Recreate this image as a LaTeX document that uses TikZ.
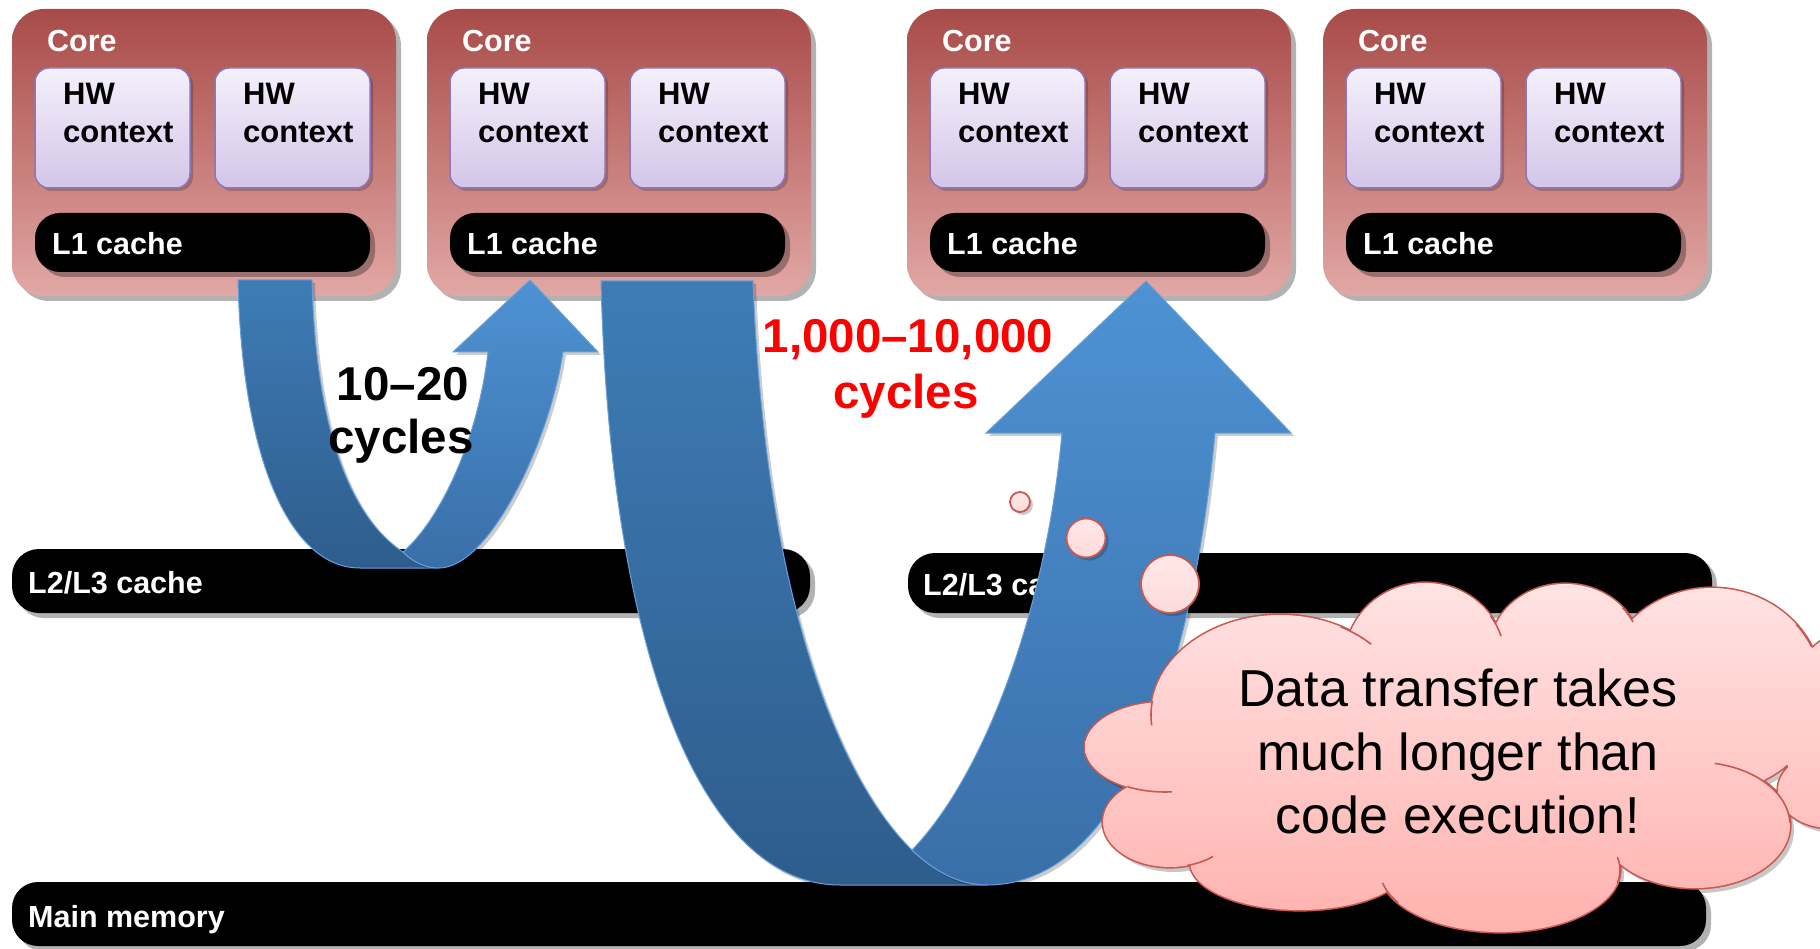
\documentclass[tikz,border=0pt]{standalone}
\usepackage{fontspec}
\setmainfont{Liberation Sans}
\usetikzlibrary{shadows}
\definecolor{coreTop}{RGB}{168,75,72}
\definecolor{coreBot}{RGB}{226,168,165}
\definecolor{hwTop}{RGB}{244,240,251}
\definecolor{hwBot}{RGB}{212,197,233}
\definecolor{hwLine}{RGB}{138,120,186}
\definecolor{bandLTop}{RGB}{62,124,182}
\definecolor{bandLBot}{RGB}{46,93,140}
\definecolor{bandRTop}{RGB}{78,146,212}
\definecolor{bandRBot}{RGB}{57,111,168}
\definecolor{bandLine}{RGB}{105,160,218}
\definecolor{cloudTop}{RGB}{255,227,227}
\definecolor{cloudBot}{RGB}{255,178,174}
\definecolor{cloudLine}{RGB}{200,88,82}
\definecolor{bubbleTop}{RGB}{255,232,232}
\definecolor{bubbleBot}{RGB}{253,218,218}
\def\cloudshape{%
 (1165,747) ellipse[x radius=80,y radius=45]
 (1280,715) ellipse[x radius=129,y radius=100]
 (1425,660) ellipse[x radius=80,y radius=77]
 (1565,650) ellipse[x radius=75,y radius=66]
 (1712,690) ellipse[x radius=110,y radius=102]
 (1870,725) ellipse[x radius=90,y radius=100]
 (1830,790) ellipse[x radius=52,y radius=38]
 (1695,825) ellipse[x radius=95,y radius=63]
 (1500,870) ellipse[x radius=120,y radius=62]
 (1300,862) ellipse[x radius=110,y radius=48]
 (1170,822) ellipse[x radius=67,y radius=45]
 (1450,755) ellipse[x radius=300,y radius=120]}
\begin{document}
\begin{tikzpicture}[x=1pt,y=-1pt,
  softshadow/.style={drop shadow={shadow xshift=5pt,shadow yshift=-5pt,opacity=.3,fill=black}},
  lightshadow/.style={drop shadow={shadow xshift=3pt,shadow yshift=-3pt,opacity=.2,fill=black}},
  corebox/.style={rounded corners=32pt,top color=coreTop,bottom color=coreBot,softshadow},
  hwbox/.style={rounded corners=14pt,top color=hwTop,bottom color=hwBot,draw=hwLine,line width=1.5pt,lightshadow},
  blackbar/.style={fill=black,softshadow},
  bandL/.style={top color=bandLTop,bottom color=bandLBot,draw=bandLine,line width=1pt,lightshadow},
  bandR/.style={top color=bandRTop,bottom color=bandRBot,draw=bandLine,line width=1pt,lightshadow},
  bubble/.style={top color=bubbleTop,bottom color=bubbleBot,draw=cloudLine,line width=1.8pt,lightshadow},
  cloudmark/.style={draw=cloudLine,line width=1.6pt},
  coretext/.style={text=white,font=\fontsize{30.5pt}{36pt}\selectfont\bfseries,inner sep=0pt,anchor=base west},
  hwtext/.style={text=black,font=\fontsize{31pt}{36pt}\selectfont\bfseries,inner sep=0pt,anchor=base west},
  bartext/.style={text=white,font=\fontsize{30.5pt}{36pt}\selectfont\bfseries,inner sep=0pt,anchor=base west},
  bigtext/.style={font=\fontsize{47.5pt}{54pt}\selectfont\bfseries,inner sep=0pt,anchor=base},
  cloudtext/.style={text=black,font=\fontsize{52pt}{64pt}\selectfont,inner sep=0pt,anchor=base}
]
\useasboundingbox (0,0) rectangle (1820,949);
\fill[white] (0,0) rectangle (1820,949);

% cores
\foreach \cx/\nm in {12/a,427/b,907/c,1323/d}{
  \path[corebox] (\cx,9) rectangle (\cx+384,296);
  \path[hwbox] (\cx+23,68) rectangle (\cx+178,188);
  \path[hwbox] (\cx+203,68) rectangle (\cx+358,188);
  \path[blackbar,rounded corners=25pt] (\cx+23,213) rectangle (\cx+358,272);
  \node[coretext] (core\nm) at (\cx+35,52) {Core};
  \node[hwtext] (hwa\nm) at (\cx+51,105) {HW};
  \node[hwtext] (ctxa\nm) at (\cx+51,143) {context};
  \node[hwtext] (hwb\nm) at (\cx+231,105) {HW};
  \node[hwtext] (ctxb\nm) at (\cx+231,143) {context};
  \node[bartext] (lone\nm) at (\cx+40,255) {L1 cache};
}

% shared caches and memory
\path[blackbar,rounded corners=27pt] (12,549) rectangle (810,613);
\node[bartext] (l2left) at (28,593) {L2/L3 cache};
\path[blackbar,rounded corners=27pt] (908,553) rectangle (1712,613);
\node[bartext] (l2right) at (923,595) {L2/L3 cache};
\path[blackbar,rounded corners=26pt] (12,882) rectangle (1706,946);
\node[bartext] (mem) at (28,927) {Main memory};

% small U-turn arrow
\path[bandL] (238,280) -- (312,280) .. controls (316,440) and (355,520) .. (403,552)
  .. controls (413,562) and (425,568) .. (439,568) -- (360,568)
  .. controls (290,568) and (242,460) .. (238,280) -- cycle;
\path[bandR] (403,552) .. controls (440,520) and (478,440) .. (488,352) -- (453,352)
  -- (530,280) -- (598,352) -- (563,352) .. controls (550,440) and (490,568) .. (439,568)
  .. controls (425,568) and (413,562) .. (403,552) -- cycle;

% big U-turn arrow
\path[bandL] (601,281) -- (753,281) .. controls (765,600) and (840,780) .. (912,850)
  .. controls (935,872) and (960,885) .. (987,885) -- (840,885)
  .. controls (700,885) and (610,650) .. (601,281) -- cycle;
\path[bandR] (912,850) .. controls (980,780) and (1045,620) .. (1062,433) -- (986,433)
  -- (1146,281) -- (1291,433) -- (1215,433) .. controls (1195,650) and (1130,885) .. (987,885)
  .. controls (960,885) and (935,872) .. (912,850) -- cycle;

% labels
\node[bigtext,text=black] (fast1) at (403,400) {10–20};
\node[bigtext,text=black] (fast2) at (401,453) {cycles};
\node[bigtext,text=red] (slow1) at (908,353) {1,000–10,000};
\node[bigtext,text=red] (slow2) at (906,408) {cycles};

% thought bubbles
\path[bubble] (1020,502) circle[radius=10];
\path[bubble] (1086,538) circle[radius=19.5];
\path[bubble] (1170,584) circle[radius=29];

% cloud
\fill[black,opacity=.22,xshift=4pt,yshift=-5pt] \cloudshape;
\draw[cloudLine,line width=3.2pt] \cloudshape;
\shade[top color=cloudTop,bottom color=cloudBot] \cloudshape;
\draw[cloudmark] ([shift={(1165,747)}]118:80 and 45) arc[start angle=118,end angle=85,x radius=80,y radius=45];
\draw[cloudmark] ([shift={(1170,822)}]75:67 and 45) arc[start angle=75,end angle=50,x radius=67,y radius=45];
\draw[cloudmark] ([shift={(1500,870)}]148:120 and 62) arc[start angle=148,end angle=168,x radius=120,y radius=62];
\draw[cloudmark] ([shift={(1500,870)}]12:120 and 62) arc[start angle=12,end angle=-12,x radius=120,y radius=62];
\draw[cloudmark] ([shift={(1280,715)}]-62:129 and 100) arc[start angle=-62,end angle=-45,x radius=129,y radius=100];
\draw[cloudmark] ([shift={(1280,715)}]188:129 and 100) arc[start angle=188,end angle=174,x radius=129,y radius=100];
\draw[cloudmark] ([shift={(1425,660)}]-35:80 and 77) arc[start angle=-35,end angle=-18,x radius=80,y radius=77];
\draw[cloudmark] ([shift={(1565,650)}]-40:75 and 66) arc[start angle=-40,end angle=-25,x radius=75,y radius=66];
\draw[cloudmark] ([shift={(1712,690)}]-40:110 and 102) arc[start angle=-40,end angle=-25,x radius=110,y radius=102];
\draw[cloudmark] ([shift={(1695,825)}]-78:95 and 63) arc[start angle=-78,end angle=-2,x radius=95,y radius=63];
\node[cloudtext] (msg1) at (1458,706) {Data transfer takes};
\node[cloudtext] (msg2) at (1458,770) {much longer than};
\node[cloudtext] (msg3) at (1458,833) {code execution!};
\end{tikzpicture}
\end{document}
